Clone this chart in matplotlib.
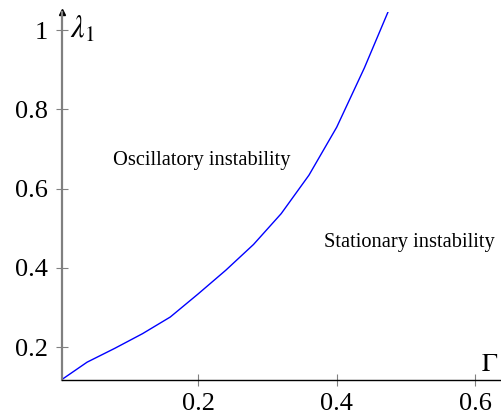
import matplotlib
matplotlib.use("Agg")
import matplotlib.pyplot as plt

# Boundary between oscillatory and stationary instability
gamma = [0.0043, 0.04, 0.08, 0.12, 0.16, 0.20, 0.24, 0.28, 0.32, 0.36, 0.40, 0.44, 0.475]
lambda1 = [0.119, 0.162, 0.197, 0.234, 0.276, 0.334, 0.394, 0.459, 0.537, 0.634, 0.755, 0.905, 1.05]

xticks = [0.2, 0.4, 0.6]
yticks = [0.2, 0.4, 0.6, 0.8, 1.0]
ytick_labels = ["0.2", "0.4", "0.6", "0.8", "1"]

plt.rcParams["font.family"] = ["Liberation Serif", "DejaVu Serif"]
plt.rcParams["mathtext.fontset"] = "stix"

fig = plt.figure(figsize=(5.01, 4.18), dpi=100)
ax = fig.add_axes([0.1244, 0.0909, 0.8756, 0.880])

ax.plot(gamma, lambda1, color="#0000ff", lw=1.0, clip_on=True)

ax.set_xlim(0.0043, 0.637)
ax.set_ylim(0.117, 1.0455)

for s in ["top", "right"]:
    ax.spines[s].set_visible(False)
ax.spines["left"].set_color("#808080")
ax.spines["left"].set_linewidth(1.6)
ax.spines["bottom"].set_color("black")
ax.spines["bottom"].set_linewidth(1.0)

ax.set_xticks(xticks)
ax.set_xticklabels([f"{v:.1f}" for v in xticks])
ax.set_yticks(yticks)
ax.set_yticklabels(ytick_labels)
ax.tick_params(axis="both", direction="inout", length=9, width=0.8,
               color="#808080", labelsize=19, pad=6)
ax.tick_params(axis="x", pad=5)

# arrow head on the vertical axis
ax.plot([0], [1], transform=ax.transAxes, marker="^", color="black",
        markersize=5, clip_on=False)

ax.text(0.0043 + 0.011, 1.0, r"$\lambda_1$", fontsize=22, va="center", ha="left")
ax.text(0.621, 0.155, r"$\Gamma$", fontsize=19, va="center", ha="center")

ax.text(0.205, 0.67, "Oscillatory instability", fontsize=14.7, ha="center", va="center")
ax.text(0.505, 0.464, "Stationary instability", fontsize=14.7, ha="center", va="center")

fig.savefig("out.png", dpi=100)
